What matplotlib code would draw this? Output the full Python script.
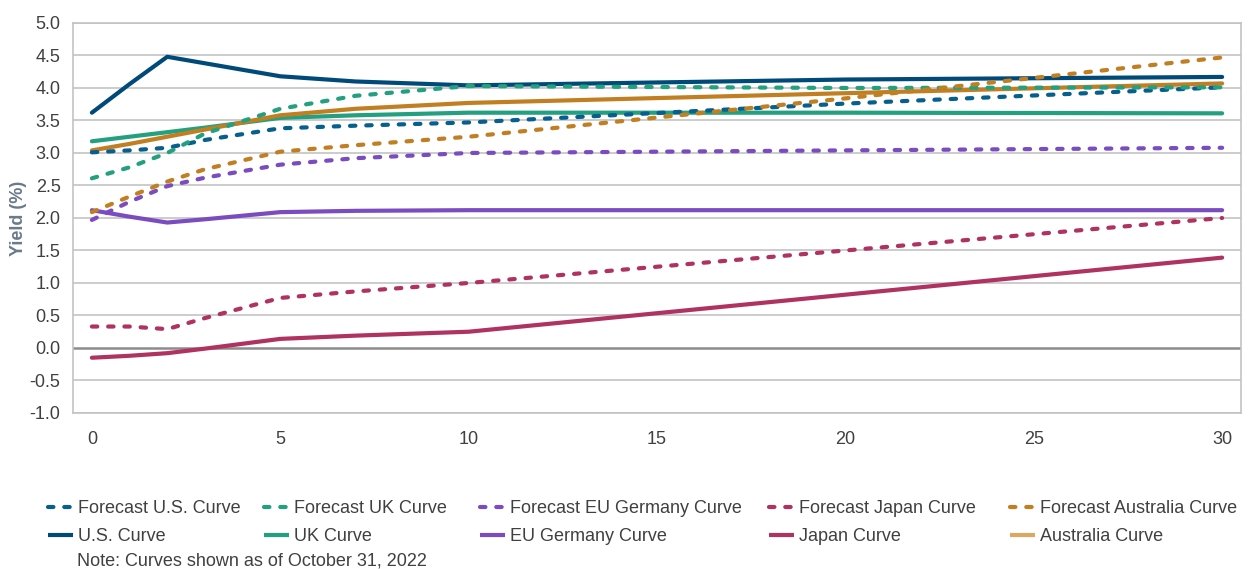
import matplotlib
matplotlib.use("Agg")
import matplotlib.pyplot as plt
from matplotlib.lines import Line2D

plt.rcParams["font.family"] = ["Liberation Sans", "DejaVu Sans"]

# Maturity in years
maturities = [0, 1, 2, 3, 5, 7, 10, 20, 30]

# Current curves (%)
us_curve = [3.62, 4.06, 4.48, 4.38, 4.18, 4.10, 4.04, 4.13, 4.17]
uk_curve = [3.18, 3.25, 3.32, 3.39, 3.54, 3.58, 3.62, 3.62, 3.61]
eu_curve = [2.12, 2.02, 1.93, 1.98, 2.09, 2.11, 2.12, 2.12, 2.12]
jp_curve = [-0.15, -0.12, -0.08, -0.01, 0.14, 0.19, 0.25, 0.82, 1.39]
au_curve = [3.04, 3.14, 3.25, 3.36, 3.58, 3.68, 3.77, 3.92, 4.07]

# Forecast curves (%)
us_fcst = [3.01, 3.04, 3.08, 3.20, 3.38, 3.42, 3.47, 3.76, 4.01]
uk_fcst = [2.61, 2.78, 3.00, 3.30, 3.68, 3.88, 4.03, 4.00, 4.01]
eu_fcst = [1.97, 2.25, 2.49, 2.62, 2.82, 2.92, 3.00, 3.04, 3.08]
jp_fcst = [0.33, 0.33, 0.29, 0.46, 0.77, 0.87, 1.00, 1.50, 2.00]
au_fcst = [2.09, 2.33, 2.56, 2.75, 3.02, 3.12, 3.25, 3.84, 4.47]

names = ["U.S.", "UK", "EU Germany", "Japan", "Australia"]
curves = [us_curve, uk_curve, eu_curve, jp_curve, au_curve]
forecasts = [us_fcst, uk_fcst, eu_fcst, jp_fcst, au_fcst]

curve_colors = ["#004a7a", "#22a07f", "#7a4cc0", "#b03260", "#c27f22"]
fcst_colors = ["#075f8e", "#22a07f", "#7a4cc0", "#b03260", "#c27f22"]
legend_curve_colors = ["#004a7a", "#22a07f", "#7a4cc0", "#b03260", "#dba862"]

yticks = [-1.0, -0.5, 0.0, 0.5, 1.0, 1.5, 2.0, 2.5, 3.0, 3.5, 4.0, 4.5, 5.0]
xticks = [0, 5, 10, 15, 20, 25, 30]

LW = 3.0
DOTS = (1.3, 2.6)
TEXT = "#404040"

fig = plt.figure(figsize=(12.53, 5.69), dpi=100)
ax = fig.add_axes([0.0583, 0.2742, 0.9321, 0.6854])

for vals, col in zip(curves, curve_colors):
    ax.plot(maturities, vals, color=col, lw=LW, solid_capstyle="round",
            solid_joinstyle="round", zorder=3)
for vals, col in zip(forecasts, fcst_colors):
    ax.plot(maturities, vals, color=col, lw=LW, dashes=DOTS,
            dash_capstyle="round", zorder=4)

ax.set_xlim(-0.5, 30.5)
ax.set_ylim(-1.0, 5.0)
ax.set_yticks(yticks)
ax.set_yticklabels([f"{v:.1f}" for v in yticks])
ax.set_xticks(xticks)
ax.tick_params(axis="both", length=0, labelsize=13, labelcolor=TEXT)
ax.tick_params(axis="y", pad=9)
ax.tick_params(axis="x", pad=13)

for y in yticks:
    if y == 0.0:
        ax.axhline(y, color="#8c8c8c", lw=1.8, zorder=2)
    else:
        ax.axhline(y, color="#c3c3c3", lw=1.2, zorder=1)

for side in ["left", "right", "top", "bottom"]:
    ax.spines[side].set_color("#c3c3c3")
    ax.spines[side].set_linewidth(1.2)

ax.set_ylabel("Yield (%)", fontsize=13, fontweight="bold", color="#6b7a8a",
              labelpad=2)

# Legend: one column per country, forecast on top, current curve below
col_x = [48, 264, 480, 769, 1010]
W, H = 1253, 569
for i in range(5):
    handles = [
        Line2D([], [], color=fcst_colors[i], lw=LW, dashes=DOTS,
               dash_capstyle="round"),
        Line2D([], [], color=legend_curve_colors[i], lw=LW,
               solid_capstyle="butt"),
    ]
    labels = [f"Forecast {names[i]} Curve", f"{names[i]} Curve"]
    fig.legend(handles, labels, loc="upper left",
               bbox_to_anchor=(col_x[i] / W, 1 - 500 / H),
               frameon=False, fontsize=13, labelcolor=TEXT,
               handlelength=1.4, handletextpad=0.25, labelspacing=0.6,
               borderpad=0, borderaxespad=0)

fig.text(77 / W, 1 - 561 / H, "Note: Curves shown as of October 31, 2022",
         fontsize=13, color=TEXT, va="center", ha="left")

fig.savefig("out.png", dpi=100)
